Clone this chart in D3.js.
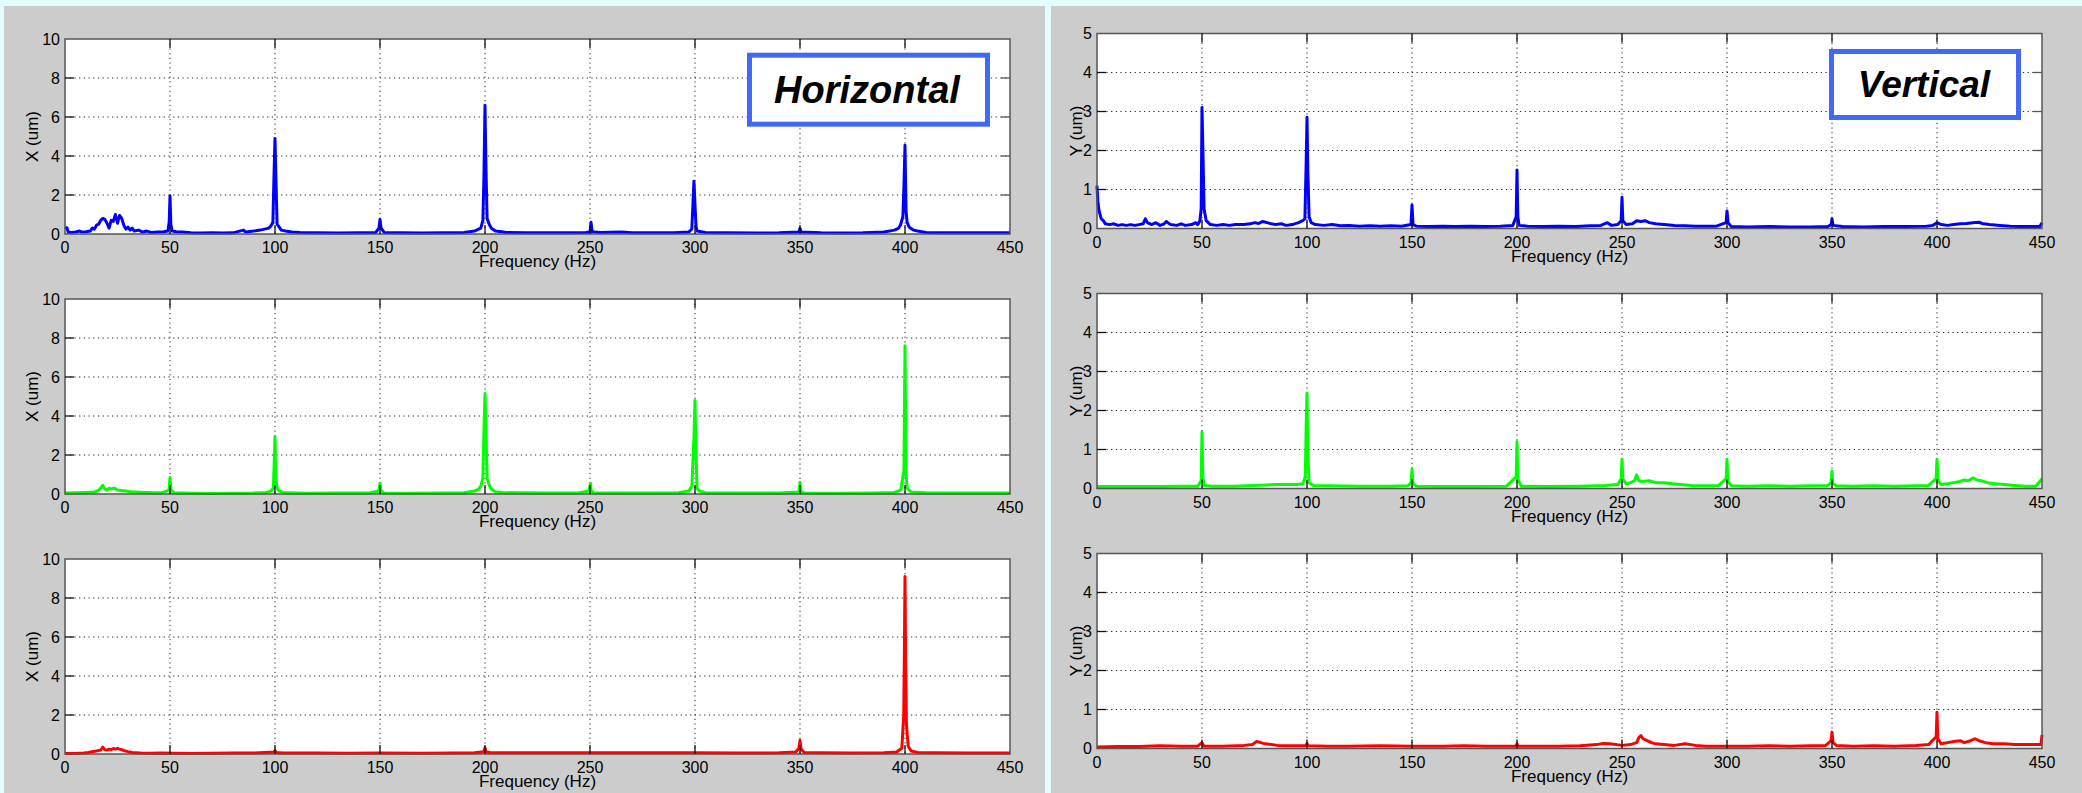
<!DOCTYPE html>
<html>
<head>
<meta charset="utf-8">
<script src="https://cdn.jsdelivr.net/npm/d3@7"></script>
<style>
 html,body{margin:0;padding:0;background:#e4fdfd;}
 svg{display:block;}
 text{font-family:"Liberation Sans",Arial,Helvetica,sans-serif;fill:#000;}
</style>
</head>
<body>
<svg id="fig" width="2082" height="793"></svg>
<script>
// frequency ticks (Hz) and amplitude ticks (um)
var freqTicks=[0,50,100,150,200,250,300,350,400,450];
var xTicksUm=[0,2,4,6,8,10];
var yTicksUm=[0,1,2,3,4,5];

// Horizontal, X (um), [Hz, um]
var hBlue=[[0,0.35],[1,0.3],[1.5,0.1],[3,0.08],[5,0.1],[7,0.15],[8,0.1],[10,0.12],[12,0.15],[13,0.3],[14,0.25],[15,0.45],[16,0.5],[17,0.7],[18,0.8],[19,0.75],[20,0.55],[21,0.3],[22,0.7],[23,0.65],[24,1.0],[25,0.55],[26,0.95],[27,0.8],[28,0.45],[29,0.25],[30,0.35],[31,0.2],[32,0.3],[33,0.15],[35,0.2],[37,0.1],[39,0.15],[41,0.08],[44,0.1],[47,0.12],[49,0.15],[49.6,0.6],[50,1.95],[50.4,0.5],[51,0.15],[53,0.12],[56,0.1],[60,0.06],[65,0.05],[70,0.06],[75,0.05],[80,0.06],[85,0.2],[86,0.1],[90,0.15],[93,0.2],[95,0.25],[97,0.3],[98,0.4],[99,0.6],[99.5,2.9],[100,4.9],[100.5,2.6],[101,0.5],[102,0.35],[103,0.2],[105,0.15],[108,0.1],[112,0.08],[120,0.06],[130,0.05],[140,0.06],[148,0.08],[149.5,0.3],[150,0.75],[150.5,0.3],[152,0.08],[160,0.06],[170,0.05],[180,0.06],[190,0.08],[195,0.15],[197,0.25],[198,0.3],[199,0.7],[199.5,3.0],[200,6.6],[200.5,3.2],[201,0.8],[202,0.5],[203,0.3],[205,0.15],[208,0.12],[210,0.08],[220,0.06],[230,0.07],[240,0.06],[248,0.08],[250,0.1],[250.5,0.6],[251,0.12],[255,0.08],[265,0.1],[270,0.06],[280,0.07],[290,0.06],[297,0.1],[298.5,0.25],[299.5,2.7],[300,1.5],[300.5,0.4],[301,0.15],[305,0.08],[315,0.06],[330,0.05],[340,0.06],[349.5,0.1],[350,0.3],[350.5,0.1],[360,0.06],[370,0.05],[380,0.06],[390,0.1],[395,0.2],[397,0.3],[398,0.5],[399,0.9],[399.5,2.5],[400,4.55],[400.5,1.2],[401,0.6],[402,0.35],[404,0.2],[406,0.15],[410,0.08],[420,0.06],[430,0.06],[440,0.07],[450,0.06]];
var hGreen=[[0,0.05],[5,0.06],[10,0.08],[14,0.1],[16,0.2],[17,0.3],[18,0.45],[19,0.25],[20,0.2],[21,0.3],[22,0.25],[23,0.3],[24,0.28],[25,0.2],[27,0.18],[29,0.15],[31,0.12],[34,0.1],[38,0.08],[42,0.06],[46,0.06],[49.5,0.2],[50,0.85],[50.5,0.2],[52,0.06],[60,0.04],[70,0.03],[80,0.04],[90,0.05],[96,0.08],[98,0.15],[99.2,0.3],[99.6,1.5],[100,2.95],[100.4,0.8],[101,0.3],[102,0.15],[105,0.06],[115,0.04],[130,0.05],[145,0.05],[149.5,0.15],[150,0.55],[150.5,0.15],[152,0.05],[165,0.04],[180,0.05],[190,0.06],[195,0.15],[197,0.25],[198,0.4],[199,0.8],[199.5,3.3],[200,5.15],[200.5,3.0],[201,0.8],[202,0.45],[203,0.25],[205,0.12],[208,0.08],[215,0.06],[230,0.05],[245,0.06],[249.5,0.15],[250.2,0.55],[250.6,0.15],[252,0.06],[265,0.05],[280,0.05],[292,0.06],[297,0.15],[298.5,0.4],[299.5,2.9],[300,4.8],[300.5,2.0],[301,0.3],[302,0.15],[305,0.07],[320,0.05],[340,0.05],[349.5,0.1],[350,0.6],[350.5,0.1],[352,0.05],[370,0.04],[385,0.05],[395,0.08],[398,0.2],[399.5,1.2],[400,7.6],[400.5,1.0],[401,0.3],[403,0.1],[410,0.06],[425,0.05],[440,0.05],[450,0.05]];
var hRed=[[0,0.03],[5,0.03],[9,0.05],[11,0.08],[13,0.12],[15,0.15],[17,0.2],[18,0.35],[19,0.22],[20,0.2],[21,0.25],[22,0.22],[23,0.28],[24,0.25],[25,0.28],[26,0.25],[27,0.22],[28,0.18],[29,0.15],[30,0.12],[32,0.08],[36,0.05],[40,0.04],[46,0.05],[52,0.04],[60,0.03],[70,0.04],[80,0.05],[90,0.05],[95,0.08],[99.5,0.1],[100,0.18],[100.5,0.08],[104,0.05],[120,0.05],[135,0.04],[150,0.05],[170,0.04],[185,0.05],[195,0.06],[199.5,0.12],[200,0.32],[200.5,0.1],[203,0.06],[220,0.06],[240,0.06],[260,0.06],[280,0.06],[300,0.06],[320,0.05],[340,0.06],[348,0.1],[349.5,0.3],[350,0.7],[350.5,0.25],[352,0.08],[360,0.06],[375,0.05],[390,0.06],[396,0.1],[398.5,0.3],[399.4,2.0],[399.7,5.2],[400,9.1],[400.3,4.8],[400.7,1.5],[401.5,0.4],[403,0.15],[406,0.08],[415,0.06],[430,0.05],[450,0.05]];

// Vertical, Y (um)
var vBlue=[[0,1.1],[0.4,0.7],[1,0.45],[2,0.25],[3,0.2],[4,0.12],[6,0.1],[8,0.12],[10,0.08],[12,0.1],[14,0.08],[16,0.1],[18,0.08],[20,0.1],[22,0.12],[23,0.25],[24,0.15],[26,0.1],[28,0.15],[30,0.08],[32,0.12],[33,0.18],[35,0.1],[38,0.08],[40,0.12],[42,0.08],[45,0.1],[47,0.15],[48,0.1],[49,0.2],[49.6,0.5],[50,3.1],[50.4,2.1],[51,0.5],[52,0.2],[54,0.1],[57,0.08],[60,0.1],[63,0.08],[66,0.1],[70,0.1],[73,0.12],[75,0.15],[77,0.13],[79,0.18],[81,0.15],[83,0.12],[85,0.1],[88,0.12],[90,0.08],[93,0.1],[96,0.15],[98,0.2],[99,0.25],[99.6,1.7],[100,2.85],[100.4,1.5],[101,0.3],[102,0.15],[104,0.1],[108,0.08],[112,0.1],[116,0.07],[120,0.08],[125,0.06],[130,0.07],[135,0.06],[140,0.07],[145,0.06],[149.5,0.1],[150,0.6],[150.5,0.1],[152,0.06],[158,0.05],[165,0.06],[170,0.05],[178,0.06],[185,0.05],[192,0.06],[198,0.08],[199.6,0.3],[200,1.5],[200.4,0.3],[201,0.08],[205,0.06],[212,0.05],[220,0.06],[228,0.05],[235,0.07],[240,0.08],[243,0.15],[245,0.08],[248,0.1],[249.6,0.2],[250,0.8],[250.4,0.2],[252,0.1],[255,0.12],[257,0.2],[259,0.18],[261,0.2],[263,0.15],[266,0.12],[270,0.1],[275,0.08],[280,0.07],[285,0.06],[290,0.06],[295,0.06],[299.6,0.15],[300,0.45],[300.5,0.15],[302,0.05],[310,0.04],[320,0.05],[330,0.04],[340,0.04],[348,0.05],[349.6,0.1],[350,0.25],[350.5,0.08],[355,0.05],[365,0.04],[375,0.05],[385,0.05],[395,0.06],[398,0.08],[400,0.15],[402,0.1],[405,0.08],[408,0.1],[411,0.12],[414,0.13],[417,0.15],[420,0.16],[422,0.12],[425,0.1],[430,0.08],[435,0.06],[440,0.05],[445,0.05],[449,0.05],[450,0.15]];
var vGreen=[[0,0.05],[10,0.05],[20,0.05],[30,0.05],[40,0.06],[48,0.06],[49.6,0.2],[50,1.45],[50.4,0.3],[51,0.08],[55,0.06],[65,0.06],[75,0.08],[85,0.1],[95,0.1],[98,0.12],[99.2,0.3],[99.6,1.6],[100,2.45],[100.4,0.9],[101,0.15],[103,0.08],[110,0.07],[125,0.06],[140,0.06],[148,0.07],[149.6,0.15],[150,0.5],[150.5,0.12],[152,0.06],[165,0.05],[180,0.05],[195,0.06],[199.6,0.3],[200,1.2],[200.4,0.25],[202,0.06],[215,0.05],[230,0.06],[242,0.08],[248,0.1],[249.6,0.25],[250,0.75],[250.4,0.25],[252,0.12],[254,0.15],[256,0.2],[257,0.35],[258,0.2],[260,0.18],[263,0.2],[266,0.15],[270,0.15],[274,0.12],[278,0.1],[283,0.08],[290,0.07],[296,0.08],[299.6,0.25],[300,0.75],[300.4,0.2],[302,0.07],[310,0.06],[320,0.07],[330,0.06],[340,0.07],[348,0.08],[349.6,0.15],[350,0.45],[350.4,0.12],[352,0.07],[360,0.06],[370,0.07],[380,0.06],[390,0.07],[396,0.08],[399.6,0.25],[400,0.75],[400.4,0.2],[402,0.1],[405,0.12],[408,0.15],[411,0.18],[413,0.22],[415,0.2],[417,0.27],[419,0.22],[421,0.2],[424,0.15],[428,0.12],[432,0.1],[437,0.08],[442,0.06],[447,0.06],[450,0.25]];
var vRed=[[0,0.04],[10,0.05],[20,0.05],[30,0.07],[40,0.06],[48,0.06],[50,0.15],[51,0.06],[60,0.06],[70,0.08],[74,0.1],[76,0.18],[78,0.15],[80,0.12],[83,0.1],[86,0.08],[90,0.07],[99.5,0.07],[100,0.13],[100.5,0.07],[110,0.06],[120,0.06],[135,0.07],[150,0.06],[165,0.06],[175,0.07],[185,0.06],[199.5,0.06],[200,0.12],[200.5,0.06],[210,0.06],[220,0.06],[230,0.07],[238,0.1],[241,0.13],[244,0.12],[247,0.1],[250,0.08],[254,0.1],[257,0.15],[258,0.28],[259,0.33],[260,0.25],[262,0.2],[264,0.15],[266,0.12],[270,0.1],[275,0.08],[280,0.12],[285,0.08],[290,0.06],[300,0.06],[310,0.06],[320,0.07],[330,0.06],[340,0.07],[347,0.08],[349.6,0.2],[350,0.42],[350.5,0.15],[352,0.08],[360,0.06],[370,0.07],[380,0.06],[390,0.08],[396,0.1],[399.6,0.3],[400,0.93],[400.4,0.25],[402,0.12],[405,0.15],[408,0.18],[411,0.2],[413,0.15],[416,0.2],[418,0.25],[420,0.2],[423,0.15],[427,0.12],[432,0.12],[437,0.1],[442,0.1],[447,0.1],[449.5,0.1],[450,0.35]];

var svg=d3.select("#fig");

// figure backgrounds (MATLAB grey), light strips between them
svg.append("rect").attr("x",4).attr("y",6).attr("width",1041).attr("height",787).attr("fill","#cccccc");
svg.append("rect").attr("x",1051).attr("y",6).attr("width",1031).attr("height",787).attr("fill","#cccccc");

var W=945,H=195;
var plots=[
 {data:hBlue, color:"#0000ff",yMax:10,ticks:xTicksUm,label:"X (um)",left:65,top:39,labX:32},
 {data:hGreen,color:"#00ff00",yMax:10,ticks:xTicksUm,label:"X (um)",left:65,top:299,labX:32},
 {data:hRed,  color:"#ff0000",yMax:10,ticks:xTicksUm,label:"X (um)",left:65,top:559,labX:32},
 {data:vBlue, color:"#0000ff",yMax:5, ticks:yTicksUm,label:"Y (um)",left:1097,top:33.5,labX:1076},
 {data:vGreen,color:"#00ff00",yMax:5, ticks:yTicksUm,label:"Y (um)",left:1097,top:293.5,labX:1076},
 {data:vRed,  color:"#ff0000",yMax:5, ticks:yTicksUm,label:"Y (um)",left:1097,top:553.5,labX:1076}
];

plots.forEach(function(p,i)
{
 var x=d3.scaleLinear().domain([0,450]).range([0,W]);
 var y=d3.scaleLinear().domain([0,p.yMax]).range([H,0]);
 var g=svg.append("g").attr("transform","translate("+p.left+","+p.top+")");
 g.append("rect").attr("width",W).attr("height",H).attr("fill","#fff");

 // dotted grid
 g.selectAll(".gx").data(freqTicks.slice(1,-1)).enter().append("line")
  .attr("x1",function(d){return x(d);}).attr("x2",function(d){return x(d);})
  .attr("y1",0).attr("y2",H).attr("stroke","#222").attr("stroke-width",1).attr("stroke-dasharray","1.2,3.5");
 g.selectAll(".gy").data(p.ticks.slice(1,-1)).enter().append("line")
  .attr("y1",function(d){return y(d);}).attr("y2",function(d){return y(d);})
  .attr("x1",0).attr("x2",W).attr("stroke","#222").attr("stroke-width",1).attr("stroke-dasharray","1.2,3.5");

 // spectrum
 g.append("clipPath").attr("id","c"+i).append("rect").attr("x",-2).attr("y",0).attr("width",W+4).attr("height",H+2);
 var line=d3.line().x(function(d){return x(d[0]);}).y(function(d){return y(d[1]);});
 g.append("path").datum(p.data).attr("d",line).attr("clip-path","url(#c"+i+")")
  .attr("fill","none").attr("stroke",p.color).attr("stroke-width",3).attr("stroke-linejoin","round");

 // box and inward ticks on all four sides
 g.append("rect").attr("width",W).attr("height",H).attr("fill","none").attr("stroke","#555").attr("stroke-width",1.5);
 var tk=9;
 freqTicks.slice(1,-1).forEach(function(d)
 {
  g.append("line").attr("x1",x(d)).attr("x2",x(d)).attr("y1",H).attr("y2",H-tk).attr("stroke","#111").attr("stroke-width",1.3);
  g.append("line").attr("x1",x(d)).attr("x2",x(d)).attr("y1",0).attr("y2",tk).attr("stroke","#111").attr("stroke-width",1.3);
 });
 p.ticks.slice(1,-1).forEach(function(d)
 {
  g.append("line").attr("x1",0).attr("x2",tk).attr("y1",y(d)).attr("y2",y(d)).attr("stroke","#111").attr("stroke-width",1.3);
  g.append("line").attr("x1",W).attr("x2",W-tk).attr("y1",y(d)).attr("y2",y(d)).attr("stroke","#555").attr("stroke-width",1.3);
 });

 // tick labels
 g.selectAll(".lx").data(freqTicks).enter().append("text")
  .attr("x",function(d){return x(d);}).attr("y",H+19).attr("text-anchor","middle")
  .style("font-size","16px").text(function(d){return d;});
 g.selectAll(".ly").data(p.ticks).enter().append("text")
  .attr("x",-5).attr("y",function(d){return y(d)+5.5;}).attr("text-anchor","end")
  .style("font-size","16px").text(function(d){return d;});

 g.append("text").attr("x",W/2).attr("y",H+33).attr("text-anchor","middle")
  .style("font-size","17px").text("Frequency (Hz)");
 svg.append("text").attr("transform","translate("+p.labX+","+(p.top+H/2)+") rotate(-90)")
  .attr("text-anchor","middle").attr("dy","0.35em").style("font-size","17px").text(p.label);
});

// title boxes
function tag(x0,y0,w,h,txt,tx,ty,fs)
{
 svg.append("rect").attr("x",x0).attr("y",y0).attr("width",w).attr("height",h)
  .attr("fill","#fff").attr("stroke","#4169f5").attr("stroke-width",5);
 svg.append("text").attr("x",tx).attr("y",ty).attr("text-anchor","middle")
  .style("font-size",fs+"px").style("font-weight","bold").style("font-style","italic").text(txt);
}
tag(749.5,55.2,238,69,"Horizontal",867,103,38);
tag(1831.5,51.5,187,66,"Vertical",1924,97,37);
</script>
</body>
</html>
